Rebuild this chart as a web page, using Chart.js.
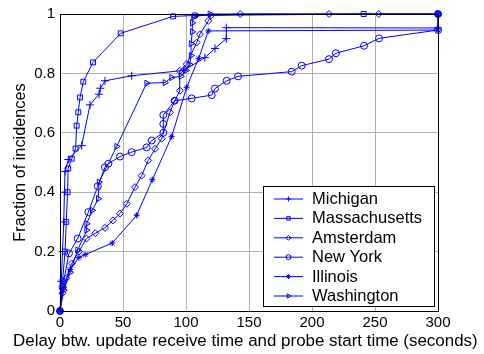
<!DOCTYPE html>
<html>
<head>
<meta charset="utf-8">
<script src="https://cdn.jsdelivr.net/npm/chart.js@4/dist/chart.umd.min.js"></script>
<style>
  html, body { margin: 0; padding: 0; background: #fff; }
  #wrap { width: 484px; height: 354px; }
</style>
</head>
<body>
<div id="wrap"><canvas id="cdf" width="484" height="354"></canvas></div>
<script>
// delay (s) and cumulative fraction
const michiganT = [0, 1, 2, 3, 3.5, 4, 6.6, 17.2, 23.8, 31, 32, 35.7, 56.9, 98, 115, 123, 132, 132, 300, 300];
const michiganF = [0, 0.1, 0.2, 0.3, 0.4, 0.47, 0.51, 0.557, 0.694, 0.73, 0.75, 0.775, 0.792, 0.81, 0.853, 0.884, 0.917, 0.954, 0.953, 1];

const massT = [0, 2, 4, 5, 6, 6.5, 9.3, 12.4, 13.2, 14.5, 15.9, 18.5, 26.2, 48.2, 89.7, 107, 241, 300];
const massF = [0, 0.1, 0.2, 0.3, 0.4, 0.48, 0.513, 0.547, 0.624, 0.669, 0.719, 0.772, 0.837, 0.935, 0.992, 0.995, 1, 1];

const amsT = [0, 2, 5, 9.3, 15, 21, 28, 35.7, 42, 47.6, 53, 59.5, 64.8, 70, 75.4, 80.7, 87.3, 91, 95.2, 95, 100.5, 108.5, 111, 117.7, 120, 143, 213.5, 253, 300];
const amsF = [0, 0.06, 0.11, 0.16, 0.2, 0.244, 0.262, 0.28, 0.305, 0.328, 0.361, 0.417, 0.456, 0.507, 0.546, 0.58, 0.669, 0.708, 0.742, 0.809, 0.831, 0.904, 0.932, 0.977, 0.995, 1, 1, 1, 1];

const nyT = [0, 2, 7.1, 14, 22.5, 30, 35.7, 38.4, 47.6, 56.9, 68.8, 72.8, 82, 82, 82, 91, 104.5, 120.4, 123, 132.3, 141.3, 183.9, 191.8, 213.5, 219, 241.3, 253.2, 300, 300];
const nyF = [0, 0.08, 0.194, 0.244, 0.333, 0.42, 0.484, 0.496, 0.52, 0.535, 0.551, 0.574, 0.6, 0.63, 0.66, 0.708, 0.716, 0.727, 0.749, 0.775, 0.79, 0.806, 0.826, 0.848, 0.868, 0.893, 0.918, 0.946, 1];

const illT = [0, 3, 8, 15, 20, 41.5, 60.8, 73.3, 88.6, 100.5, 110, 117.7, 300, 300];
const illF = [0, 0.08, 0.14, 0.18, 0.19, 0.229, 0.322, 0.442, 0.587, 0.753, 0.85, 0.943, 0.946, 1];

const washT = [0, 3, 8, 14, 21.2, 21.2, 25.6, 30.4, 31, 45, 68.8, 83.3, 88.6, 96, 100, 103, 104, 104, 105, 105, 106, 119, 300];
const washF = [0, 0.07, 0.13, 0.205, 0.272, 0.294, 0.339, 0.378, 0.434, 0.554, 0.767, 0.769, 0.786, 0.79, 0.81, 0.83, 0.86, 0.9, 0.94, 0.97, 0.99, 1, 1];

const xTicks = [0, 50, 100, 150, 200, 250, 300];
const yTicks = [0, 0.2, 0.4, 0.6, 0.8, 1];
const xTitle = "Delay btw. update receive time and probe start time (seconds)";

const BLUE = "#0000ff";
const FONT = "'Liberation Sans', Arial, sans-serif";

function pts(ts, fs) {
  return ts.map((t, i) => ({ x: t, y: fs[i] }));
}

function series(label, ts, fs, style, extra) {
  return Object.assign({
    label,
    data: pts(ts, fs),
    borderColor: BLUE,
    backgroundColor: "rgba(0,0,0,0)",
    borderWidth: 1,
    pointStyle: style,
    pointRadius: 3.5,
    pointBorderWidth: 1,
    pointBorderColor: BLUE,
    pointBackgroundColor: "rgba(0,0,0,0)",
    tension: 0,
    clip: 6,
  }, extra || {});
}

// frame, x title (chart.js squeezes it to the axis width) and the legend box
const frameAndLegend = {
  id: "frameAndLegend",
  afterDraw(chart) {
    const { ctx, chartArea: a } = chart;
    ctx.save();
    ctx.strokeStyle = "#000";
    ctx.lineWidth = 1;
    ctx.strokeRect(a.left + 0.5, a.top + 0.5, a.right - a.left, a.bottom - a.top);

    ctx.fillStyle = "#000";
    ctx.font = "16px " + FONT;
    const w = ctx.measureText(xTitle).width;
    ctx.font = (16 * 465 / w).toFixed(2) + "px " + FONT;
    ctx.textAlign = "left";
    ctx.textBaseline = "middle";
    ctx.fillText(xTitle, 13, 341);

    const bx = 263, by = 186, bw = 171, bh = 120;
    ctx.fillStyle = "#fff";
    ctx.fillRect(bx, by, bw, bh);
    ctx.strokeRect(bx + 0.5, by + 0.5, bw, bh);

    ctx.font = "16.5px " + FONT;
    chart.data.datasets.forEach((ds, i) => {
      const y = by + 12.5 + i * 19.4;
      ctx.strokeStyle = BLUE;
      ctx.beginPath();
      ctx.moveTo(274, y + 0.5);
      ctx.lineTo(303, y + 0.5);
      ctx.stroke();
      ctx.fillStyle = ds.pointBackgroundColor;
      ctx.strokeStyle = BLUE;
      Chart.helpers.drawPoint(ctx, {
        pointStyle: ds.pointStyle,
        rotation: ds.pointRotation || 0,
        radius: 2.5,
        borderWidth: 1,
      }, 288.5, y + 0.5);
      ctx.fillStyle = "#000";
      ctx.fillText(ds.label, 312, y + 1);
    });
    ctx.restore();
  },
};

new Chart(document.getElementById("cdf"), {
  type: "line",
  data: {
    datasets: [
      series("Michigan", michiganT, michiganF, "cross", { pointRadius: 4 }),
      series("Massachusetts", massT, massF, "rect"),
      series("Amsterdam", amsT, amsF, "rectRot"),
      series("New York", nyT, nyF, "circle"),
      series("Illinois", illT, illF, "star", { pointRadius: 3, pointBackgroundColor: BLUE }),
      series("Washington", washT, washF, "triangle", { pointRotation: 90 }),
    ],
  },
  options: {
    responsive: false,
    animation: false,
    layout: { padding: { top: 13, right: 46, left: 0, bottom: 0 } },
    plugins: { legend: { display: false }, tooltip: { enabled: false } },
    scales: {
      x: {
        type: "linear",
        min: 0,
        max: 300,
        afterFit: (s) => { s.height = 43; },
        afterBuildTicks: (s) => { s.ticks = xTicks.map((v) => ({ value: v })); },
        grid: { color: "#b0b0b0", borderDash: [1, 3], drawTicks: false },
        border: { color: "#000", display: true },
        ticks: { color: "#000", font: { family: FONT, size: 15 }, padding: 3, callback: (v) => String(v) },
        title: { display: false },
      },
      y: {
        min: 0,
        max: 1,
        afterFit: (s) => { s.width = 60; },
        afterBuildTicks: (s) => { s.ticks = yTicks.map((v) => ({ value: v })); },
        grid: { color: "#b0b0b0", borderDash: [1, 3], drawTicks: false },
        border: { color: "#000", display: true },
        ticks: { color: "#000", font: { family: FONT, size: 15 }, padding: 5, callback: (v) => String(+v.toFixed(1)) },
        title: {
          display: true,
          text: "Fraction of incidences",
          color: "#000",
          font: { family: FONT, size: 16.3 },
          padding: { top: 11, bottom: 0 },
        },
      },
    },
  },
  plugins: [frameAndLegend],
});
</script>
</body>
</html>
